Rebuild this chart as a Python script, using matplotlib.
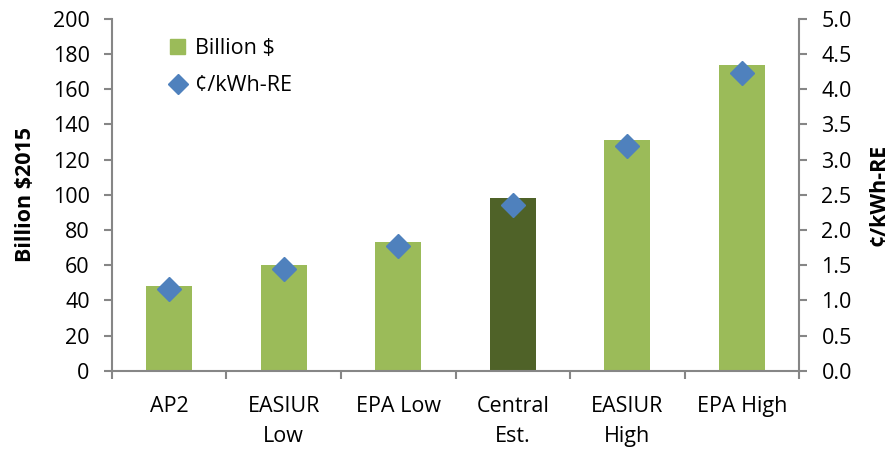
import numpy as np
import matplotlib; matplotlib.use('Agg')
import matplotlib.pyplot as plt
from matplotlib.lines import Line2D
from matplotlib.patches import Patch

plt.rcParams['font.family'] = ['Open Sans', 'DejaVu Sans']

categories = ['AP2', 'EASIUR\nLow', 'EPA Low', 'Central\nEst.', 'EASIUR\nHigh', 'EPA High']
billion = [48, 60, 73, 98, 131, 174]
cents_kwh = [1.17, 1.45, 1.77, 2.36, 3.19, 4.23]

light = '#9BBB59'; dark = '#4F6228'; blue = '#4F81BD'; gray = '#868686'
colors = [light, light, light, dark, light, light]

fig = plt.figure(figsize=(8.95, 4.49), dpi=100)
ax = fig.add_axes([0.125, 0.174, 0.768, 0.784])
x = np.arange(len(categories))
ax.bar(x, billion, width=0.4, color=colors, zorder=2)
ax.set_xlim(-0.5, len(categories) - 0.5)
ax.set_ylim(0, 200)
ax.set_yticks(np.arange(0, 201, 20))
ax.set_xticks(x)
ax.set_xticklabels(categories, fontsize=15.5, linespacing=1.55)
ax.set_xticks(np.arange(-0.5, len(categories), 1), minor=True)
ax.tick_params(axis='x', which='major', length=0, pad=18)
ax.tick_params(axis='x', which='minor', length=6, width=1.5, color=gray, direction='out')
ax.tick_params(axis='y', labelsize=15.5, length=6, width=1.5, color=gray, pad=10)
ax.set_ylabel('Billion $2015', fontsize=15.5, fontweight='bold', labelpad=12)
for s in ['top', 'right']:
    ax.spines[s].set_visible(False)
for s in ['left', 'bottom']:
    ax.spines[s].set_color(gray); ax.spines[s].set_linewidth(1.5)

ax2 = ax.twinx()
ax2.plot(x, cents_kwh, linestyle='none', marker='D', markersize=12, color=blue, zorder=3)
ax2.set_ylim(0, 5)
ax2.set_yticks(np.arange(0, 5.01, 0.5))
ax2.set_yticklabels([f'{v:.1f}' for v in np.arange(0, 5.01, 0.5)])
ax2.tick_params(axis='y', labelsize=15.5, length=6, width=1.5, color=gray, pad=10)
ax2.set_ylabel('¢/kWh-RE', fontsize=15.5, fontweight='bold', labelpad=12)
for s in ['top', 'left', 'bottom']:
    ax2.spines[s].set_visible(False)
ax2.spines['right'].set_color(gray); ax2.spines['right'].set_linewidth(1.5)

handles = [Patch(color=light, label='Billion $'),
           Line2D([], [], linestyle='none', marker='D', markersize=10, color=blue, label='¢/kWh-RE')]
ax2.legend(handles=handles, loc='upper left', bbox_to_anchor=(0.057, 1.0), frameon=False,
           fontsize=15.5, handlelength=0.7, handletextpad=0.45, labelspacing=0.75)

plt.savefig('out.png', dpi=100)
plt.close()
